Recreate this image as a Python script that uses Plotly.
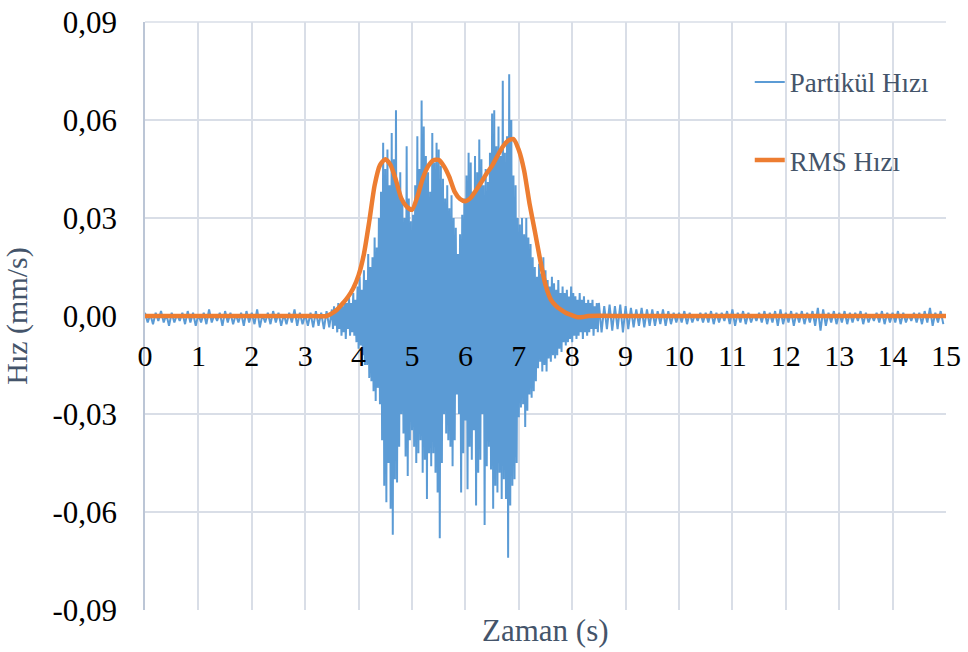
import plotly.graph_objects as go

# ---------------- DATA ----------------
# Particle velocity (mm/s): positive / negative excursions.
# Quiet part before the event: pairs at t = 0.00, 0.10, ... (peak) and +0.05 (trough)
quiet_start_t0 = 0.0
quiet_start_step = 0.1
quiet_start_up = [0.001, 0.0005, 0.001, 0.0015, 0.0005, 0.001, 0.0005, 0.001, 0.0015, 0.001,
                  0.0005, 0.001, 0.002, 0.0005, 0.001, 0.0015, 0.001, 0.0005, 0.001, 0.0015,
                  0.001, 0.002, 0.0005, 0.001, 0.0015, 0.001, 0.0005, 0.001, 0.002, 0.001,
                  0.0005, 0.001, 0.0015, 0.001, 0.0015]
quiet_start_down = [-0.002, -0.0025, -0.0015, -0.002, -0.003, -0.002, -0.0015, -0.0025, -0.002, -0.003,
                    -0.002, -0.0025, -0.002, -0.0015, -0.003, -0.002, -0.0025, -0.002, -0.003, -0.002,
                    -0.0025, -0.0035, -0.002, -0.0025, -0.002, -0.003, -0.0025, -0.002, -0.003, -0.0025,
                    -0.003, -0.0035, -0.003, -0.004, -0.0035]

# Strong motion: pairs at t = 3.50, 3.54, ... (peak) and +0.02 (trough)
event_t0 = 3.5
event_step = 0.04
event_up = [0.002, 0.003, 0.002, 0.004, 0.003,
            0.003, 0.005, 0.004, 0.006, 0.004,
            0.007, 0.005, 0.009, 0.012, 0.008,
            0.014, 0.011, 0.019, 0.015, 0.018,
            0.024, 0.021, 0.030, 0.038, 0.053,
            0.045, 0.051, 0.040, 0.056, 0.048,
            0.063, 0.038, 0.044, 0.035, 0.030,
            0.052, 0.036, 0.029, 0.031, 0.040,
            0.055, 0.045, 0.066, 0.058, 0.049,
            0.044, 0.038, 0.056, 0.047, 0.053,
            0.051, 0.046, 0.042, 0.036, 0.040,
            0.033, 0.037, 0.030, 0.027, 0.019,
            0.025, 0.031, 0.036, 0.043, 0.050,
            0.047, 0.038, 0.049, 0.044, 0.054,
            0.048, 0.040, 0.045, 0.041, 0.050,
            0.062, 0.063, 0.052, 0.058, 0.049,
            0.072, 0.050, 0.055, 0.074, 0.060,
            0.043, 0.040, 0.030, 0.028, 0.030,
            0.025, 0.030, 0.024, 0.022, 0.018,
            0.015, 0.012, 0.016, 0.013, 0.018,
            0.014, 0.011, 0.009, 0.012, 0.010,
            0.008, 0.011, 0.007, 0.009, 0.007,
            0.008, 0.006, 0.009, 0.007, 0.006,
            0.005, 0.007, 0.005, 0.006, 0.004,
            0.005, 0.004, 0.005, 0.003, 0.004]
event_down = [-0.004, -0.003, -0.005, -0.004, -0.006,
              -0.005, -0.007, -0.004, -0.006, -0.005,
              -0.006, -0.008, -0.010, -0.009, -0.012,
              -0.015, -0.015, -0.019, -0.020, -0.023,
              -0.026, -0.022, -0.027, -0.038, -0.052,
              -0.057, -0.045, -0.059, -0.067, -0.050,
              -0.051, -0.040, -0.030, -0.036, -0.043,
              -0.049, -0.038, -0.035, -0.040, -0.045,
              -0.042, -0.038, -0.048, -0.044, -0.056,
              -0.042, -0.046, -0.042, -0.048, -0.054,
              -0.068, -0.045, -0.030, -0.036, -0.038,
              -0.040, -0.046, -0.038, -0.024, -0.030,
              -0.054, -0.042, -0.032, -0.053, -0.040,
              -0.044, -0.035, -0.058, -0.048, -0.044,
              -0.030, -0.064, -0.046, -0.040, -0.047,
              -0.059, -0.052, -0.054, -0.048, -0.056,
              -0.050, -0.056, -0.074, -0.058, -0.052,
              -0.050, -0.045, -0.031, -0.028, -0.027,
              -0.034, -0.029, -0.024, -0.025, -0.023,
              -0.020, -0.016, -0.014, -0.017, -0.015,
              -0.017, -0.013, -0.014, -0.012, -0.013,
              -0.012, -0.010, -0.011, -0.008, -0.009,
              -0.008, -0.007, -0.008, -0.006, -0.007,
              -0.006, -0.005, -0.007, -0.005, -0.006,
              -0.005, -0.004, -0.006, -0.004, -0.005]

# Coda: pairs at t = 8.5, 8.6, ... (peak) and +0.05 (trough)
coda_t0 = 8.5
coda_step = 0.1
coda_up = [0.004, 0.003, 0.0035, 0.003, 0.0035,
           0.003, 0.0025, 0.002, 0.0025, 0.002,
           0.002, 0.0015, 0.002, 0.0015, 0.001,
           0.001, 0.0015, 0.001, 0.0005, 0.001,
           0.001, 0.0015, 0.001, 0.001, 0.0015,
           0.002, 0.001, 0.0015, 0.001, 0.0005,
           0.001, 0.0015, 0.001, 0.0015, 0.002,
           0.001, 0.0015, 0.001, 0.0015, 0.001,
           0.0015, 0.0025, 0.002, 0.001, 0.0015,
           0.001, 0.0015, 0.001, 0.001, 0.0015,
           0.001, 0.0005, 0.001, 0.0015, 0.001,
           0.001, 0.0015, 0.001, 0.0005, 0.001,
           0.001, 0.0015, 0.0025, 0.001, 0.0015]
coda_down = [-0.005, -0.004, -0.0045, -0.004, -0.005,
             -0.004, -0.0035, -0.003, -0.0035, -0.003,
             -0.003, -0.0025, -0.003, -0.0025, -0.002,
             -0.002, -0.0025, -0.002, -0.0015, -0.002,
             -0.002, -0.0025, -0.002, -0.0015, -0.0025,
             -0.003, -0.002, -0.0025, -0.002, -0.0015,
             -0.002, -0.0025, -0.002, -0.003, -0.0025,
             -0.002, -0.003, -0.002, -0.0025, -0.002,
             -0.003, -0.0045, -0.003, -0.002, -0.0025,
             -0.002, -0.0025, -0.002, -0.0015, -0.0025,
             -0.002, -0.0015, -0.002, -0.0025, -0.002,
             -0.002, -0.0025, -0.002, -0.0015, -0.002,
             -0.0025, -0.002, -0.003, -0.002, -0.0025]

# RMS velocity (mm/s)
rms_t = [0.0, 1.0, 2.0, 3.0, 3.4, 3.5, 3.6, 3.7, 3.8, 3.9,
         4.0, 4.1, 4.2, 4.3, 4.4, 4.5, 4.6, 4.7, 4.8, 4.9,
         5.0, 5.1, 5.2, 5.3, 5.4, 5.5, 5.6, 5.7, 5.8, 5.9,
         6.0, 6.1, 6.2, 6.3, 6.4, 6.5, 6.6, 6.7, 6.8, 6.9,
         7.0, 7.1, 7.2, 7.3, 7.4, 7.5, 7.6, 7.7, 7.8, 7.9,
         8.0, 8.1, 8.2, 8.3, 9.0, 10.0, 11.0, 12.0, 13.0, 14.0, 15.0]
rms_v = [0.0, 0.0, 0.0, 0.0, 0.0, 0.0008, 0.002, 0.0038, 0.0058, 0.0085,
         0.0125, 0.019, 0.029, 0.040, 0.0462, 0.048, 0.0462, 0.0415, 0.036, 0.0335,
         0.0325, 0.0365, 0.042, 0.0458, 0.0477, 0.0478, 0.0458, 0.0425, 0.038, 0.0358,
         0.0351, 0.0362, 0.0385, 0.041, 0.0437, 0.046, 0.049, 0.0518, 0.0537, 0.0542,
         0.0508, 0.0445, 0.0345, 0.026, 0.0172, 0.0095, 0.005, 0.003, 0.0018, 0.0008,
         0.0002, -0.0004, -0.0003, 0.0, 0.0, 0.0, 0.0, 0.0, 0.0, 0.0, 0.0]

x_ticks = list(range(0, 16))
y_tickvals = [-0.09, -0.06, -0.03, 0.0, 0.03, 0.06, 0.09]
y_ticktext = ["-0,09", "-0,06", "-0,03", "0,00", "0,03", "0,06", "0,09"]


def interleave(t0, step, ups, downs):
    t, v = [], []
    for i, (u, d) in enumerate(zip(ups, downs)):
        t += [t0 + i * step, t0 + i * step + step / 2]
        v += [u, d]
    return t, v


t1, v1 = interleave(quiet_start_t0, quiet_start_step, quiet_start_up, quiet_start_down)
t2, v2 = interleave(event_t0, event_step, event_up, event_down)
t3, v3 = interleave(coda_t0, coda_step, coda_up, coda_down)
part_t = t1 + t2 + t3
part_v = v1 + v2 + v3

FONT = "Liberation Serif"
TITLE_COL = "#44546a"
GRID = "#d9dee7"

fig = go.Figure()
fig.add_trace(go.Scatter(x=part_t, y=part_v, mode="lines", name="Partikül Hızı",
                         line=dict(color="#5b9bd5", width=2), legendgroup="a"))
fig.add_trace(go.Scatter(x=rms_t, y=rms_v, mode="lines", name="RMS Hızı",
                         line=dict(color="#ed7d31", width=4.5, shape="spline", smoothing=0.6),
                         legendgroup="b"))

fig.update_layout(
    width=968, height=652,
    margin=dict(l=145, r=22, t=22, b=42, autoexpand=False),
    paper_bgcolor="white", plot_bgcolor="white",
    font=dict(family=FONT, size=30, color="black"),
    showlegend=True,
    legend=dict(x=0.755, y=0.939, xanchor="left", yanchor="top",
                bgcolor="rgba(0,0,0,0)", tracegroupgap=40,
                font=dict(family=FONT, size=27, color=TITLE_COL)),
    xaxis=dict(range=[0, 15], tickvals=x_ticks, ticktext=[str(v) for v in x_ticks],
               anchor="free", position=0.5, automargin=False,
               showgrid=True, gridcolor=GRID, gridwidth=1.5,
               showline=False, zeroline=False,
               ticks="outside", ticklen=13, tickcolor="rgba(0,0,0,0)",
               tickfont=dict(family=FONT, size=30, color="black")),
    yaxis=dict(range=[-0.09, 0.09], tickvals=y_tickvals, ticktext=y_ticktext,
               automargin=False, ticklabeloverflow="allow",
               showgrid=True, gridcolor=GRID, gridwidth=1.5,
               showline=True, linecolor="#bcc6d6", linewidth=1.5,
               zeroline=False,
               ticks="outside", ticklen=20, tickcolor="rgba(0,0,0,0)",
               tickfont=dict(family=FONT, size=31, color="black"),
               title=dict(text="Hız (mm/s)", standoff=18,
                          font=dict(family=FONT, size=30, color=TITLE_COL))),
)

# top gridline at the upper edge of the plot area (paper-referenced, so not clipped)
fig.add_shape(type="line", xref="paper", x0=0, x1=1, yref="paper",
              y0=1, y1=1, layer="below",
              line=dict(color=GRID, width=1.5))

fig.add_annotation(text="Zaman (s)", x=0.5, y=-0.0, xref="paper", yref="paper",
                   xanchor="center", yanchor="top", yshift=-1, showarrow=False,
                   font=dict(family=FONT, size=31, color=TITLE_COL))

# remove the browser's default 8px body margin so the figure sits at the page origin
fig.write_html("out.html", config={"displayModeBar": False},
               post_script="document.body.style.margin='0';")
